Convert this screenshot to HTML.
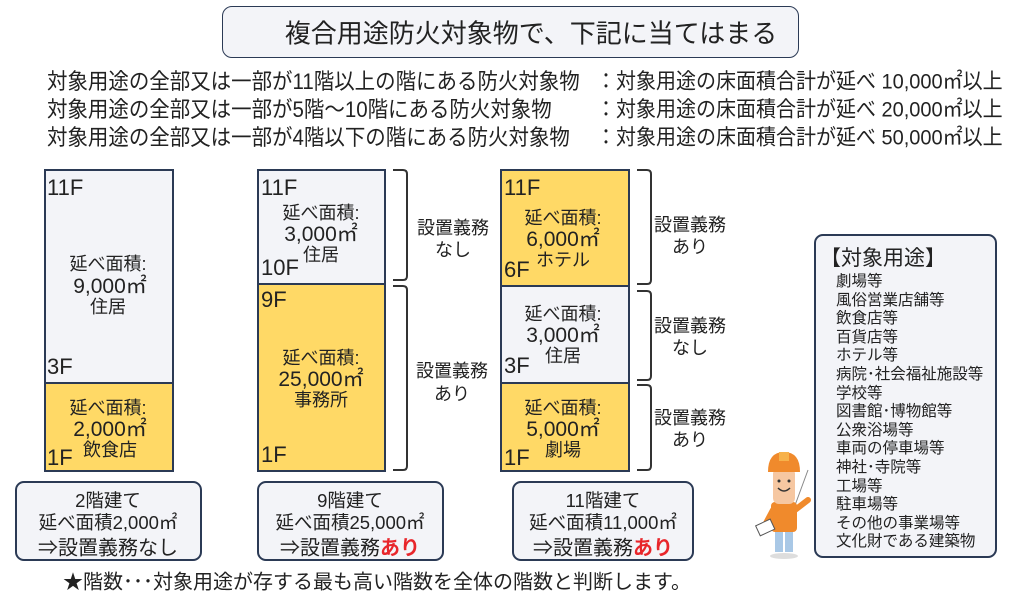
<!DOCTYPE html>
<html><head><meta charset="utf-8">
<style>
body{margin:0;width:1024px;height:610px;background:#fff;position:relative;overflow:hidden;font-family:"Liberation Sans","Noto Sans CJK JP",sans-serif;color:#222}
.a{position:absolute;white-space:nowrap}
.c{position:absolute;white-space:nowrap;transform:translate(-50%,-50%);text-align:center}
.l{position:absolute;white-space:nowrap;transform:translateY(-50%)}
.box{position:absolute;border:2px solid #2b3a55;box-sizing:border-box}
.w{background:#f3f4f8}.y{background:#ffd966}
.r{border-radius:9px;background:#f3f4f8}
.f{font-size:22px}.t{font-size:18px}.n{font-size:21px}
.s{font-size:18.5px}.s2{font-size:20px}
.red{color:#e8262b}
</style></head><body>
<div class="box r" style="left:222px;top:6px;width:577px;height:52px;border-radius:10px;border-width:1.5px"></div>
<div class="c" style="left:531px;top:32px;font-size:26px">複合用途防火対象物で、下記に当てはまる</div>

<div class="l" style="left:47px;top:80px;font-size:22px;transform:translateY(-50%) scaleX(0.93);transform-origin:left">対象用途の全部又は一部が11階以上の階にある防火対象物</div>
<div class="l" style="left:47px;top:108px;font-size:22px;transform:translateY(-50%) scaleX(0.93);transform-origin:left">対象用途の全部又は一部が5階～10階にある防火対象物</div>
<div class="l" style="left:47px;top:136px;font-size:22px;transform:translateY(-50%) scaleX(0.93);transform-origin:left">対象用途の全部又は一部が4階以下の階にある防火対象物</div>
<div class="l" style="left:596px;top:80px;font-size:21.5px;transform:translateY(-50%) scaleX(0.93);transform-origin:left">：対象用途の床面積合計が延べ 10,000㎡以上</div>
<div class="l" style="left:596px;top:108px;font-size:21.5px;transform:translateY(-50%) scaleX(0.93);transform-origin:left">：対象用途の床面積合計が延べ 20,000㎡以上</div>
<div class="l" style="left:596px;top:136px;font-size:21.5px;transform:translateY(-50%) scaleX(0.93);transform-origin:left">：対象用途の床面積合計が延べ 50,000㎡以上</div>

<!-- building 1 -->
<div class="box w" style="left:44px;top:169px;width:130px;height:215px"></div>
<div class="box y" style="left:44px;top:382px;width:130px;height:90px"></div>
<div class="l f" style="left:47px;top:188px">11F</div>
<div class="c t" style="left:108px;top:263px">延べ面積:</div>
<div class="c n" style="left:110px;top:285px">9,000㎡</div>
<div class="c t" style="left:108px;top:306px">住居</div>
<div class="l f" style="left:47px;top:367px">3F</div>
<div class="c t" style="left:108px;top:407px">延べ面積:</div>
<div class="c n" style="left:110px;top:428px">2,000㎡</div>
<div class="c t" style="left:110px;top:449px">飲食店</div>
<div class="l f" style="left:47px;top:458px">1F</div>

<!-- building 2 -->
<div class="box w" style="left:257px;top:169px;width:129px;height:116px"></div>
<div class="box y" style="left:257px;top:283px;width:129px;height:189px"></div>
<div class="l f" style="left:261px;top:188px">11F</div>
<div class="c t" style="left:321px;top:212px">延べ面積:</div>
<div class="c n" style="left:321px;top:233px">3,000㎡</div>
<div class="c t" style="left:321px;top:254px">住居</div>
<div class="l f" style="left:261px;top:268px">10F</div>
<div class="l f" style="left:261px;top:300px">9F</div>
<div class="c t" style="left:321px;top:357px">延べ面積:</div>
<div class="c n" style="left:321px;top:378px">25,000㎡</div>
<div class="c t" style="left:321px;top:399px">事務所</div>
<div class="l f" style="left:261px;top:455px">1F</div>

<!-- building 3 -->
<div class="box y" style="left:500px;top:169px;width:130px;height:118px"></div>
<div class="box w" style="left:500px;top:285px;width:130px;height:99px"></div>
<div class="box y" style="left:500px;top:382px;width:130px;height:90px"></div>
<div class="l f" style="left:504px;top:188px">11F</div>
<div class="c t" style="left:563px;top:217px">延べ面積:</div>
<div class="c n" style="left:563px;top:238px">6,000㎡</div>
<div class="c t" style="left:563px;top:259px">ホテル</div>
<div class="l f" style="left:504px;top:270px">6F</div>
<div class="c t" style="left:563px;top:313px">延べ面積:</div>
<div class="c n" style="left:563px;top:334px">3,000㎡</div>
<div class="c t" style="left:563px;top:355px">住居</div>
<div class="l f" style="left:504px;top:366px">3F</div>
<div class="c t" style="left:563px;top:407px">延べ面積:</div>
<div class="c n" style="left:563px;top:428px">5,000㎡</div>
<div class="c t" style="left:563px;top:449px">劇場</div>
<div class="l f" style="left:504px;top:458px">1F</div>

<svg class="a" style="left:0;top:0" width="1024" height="610">
<g fill="none" stroke="#333" stroke-width="2">
<path d="M393 170 H403 Q407 170 407 174 V276 Q407 280 403 280 H393"/>
<path d="M393 286 H403 Q407 286 407 290 V466 Q407 470 403 470 H393"/>
<path d="M637 170 H647 Q651 170 651 174 V280 Q651 284 647 284 H637"/>
<path d="M637 291 H647 Q651 291 651 295 V376 Q651 380 647 380 H637"/>
<path d="M637 385 H647 Q651 385 651 389 V466 Q651 470 647 470 H637"/>
</g>
<g>
<line x1="794" y1="508" x2="808" y2="470" stroke="#888" stroke-width="1"/>
<rect x="775" y="530" width="8" height="22" fill="#a9c8e6"/><rect x="785" y="530" width="8" height="22" fill="#a9c8e6"/>
<ellipse cx="784" cy="556" rx="14" ry="3" fill="#ddd"/>
<rect x="771" y="502" width="26" height="30" rx="4" fill="#f08a2c"/>
<path d="M795 510 L808 500" stroke="#f08a2c" stroke-width="6" stroke-linecap="round"/>
<path d="M773 510 L765 525" stroke="#f08a2c" stroke-width="6" stroke-linecap="round"/>
<rect x="757" y="522" width="16" height="11" fill="#fff" stroke="#555" stroke-width="1" transform="rotate(-25 765 527)"/>
<rect x="773" y="468" width="22" height="36" rx="6" fill="#f6c7a1"/>
<path d="M768 472 Q768 452 784 452 Q800 452 800 472 Z" fill="#f08a2c"/>
<rect x="779" y="452" width="10" height="9" fill="#f7b24a"/>
<circle cx="779" cy="481" r="1.5" fill="#333"/><circle cx="789" cy="481" r="1.5" fill="#333"/>
<path d="M778 488 Q784 494 790 488" stroke="#333" stroke-width="1.5" fill="none"/>
</g>
</svg>

<div class="c t" style="left:453px;top:227px">設置義務</div>
<div class="c t" style="left:453px;top:249px">なし</div>
<div class="c t" style="left:452px;top:370px">設置義務</div>
<div class="c t" style="left:452px;top:393px">あり</div>
<div class="c t" style="left:690px;top:224px">設置義務</div>
<div class="c t" style="left:690px;top:246px">あり</div>
<div class="c t" style="left:690px;top:325px">設置義務</div>
<div class="c t" style="left:690px;top:347px">なし</div>
<div class="c t" style="left:690px;top:417px">設置義務</div>
<div class="c t" style="left:690px;top:439px">あり</div>

<!-- summary boxes -->
<div class="box r" style="left:15px;top:481px;width:187px;height:80px"></div>
<div class="c s" style="left:108px;top:500px">2階建て</div>
<div class="c s" style="left:108px;top:522px">延べ面積2,000㎡</div>
<div class="c s2" style="left:108px;top:546px">⇒設置義務なし</div>
<div class="box r" style="left:257px;top:481px;width:187px;height:80px"></div>
<div class="c s" style="left:350px;top:500px">9階建て</div>
<div class="c s" style="left:350px;top:522px">延べ面積25,000㎡</div>
<div class="c s2" style="left:350px;top:546px">⇒設置義務<b class="red">あり</b></div>
<div class="box r" style="left:512px;top:481px;width:182px;height:80px"></div>
<div class="c s" style="left:603px;top:500px">11階建て</div>
<div class="c s" style="left:603px;top:522px">延べ面積11,000㎡</div>
<div class="c s2" style="left:603px;top:546px">⇒設置義務<b class="red">あり</b></div>

<!-- list box -->
<div class="box r" style="left:814px;top:234px;width:183px;height:324px"></div>
<div class="l" style="left:820px;top:257px;font-size:21px">【対象用途】</div>
<div class="a" style="left:836px;top:273px;font-size:15.5px;line-height:18.6px">劇場等<br>風俗営業店舗等<br>飲食店等<br>百貨店等<br>ホテル等<br>病院･社会福祉施設等<br>学校等<br>図書館･博物館等<br>公衆浴場等<br>車両の停車場等<br>神社･寺院等<br>工場等<br>駐車場等<br>その他の事業場等<br>文化財である建築物</div>

<div class="l" style="left:63px;top:580px;font-size:20px">★階数･･･対象用途が存する最も高い階数を全体の階数と判断します。</div>
</body></html>
